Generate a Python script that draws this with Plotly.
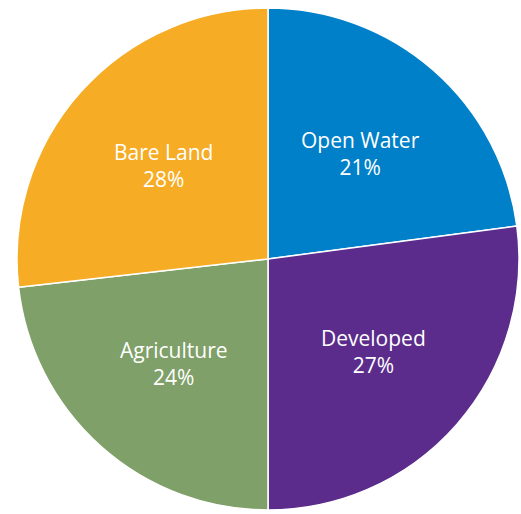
import math
import plotly.graph_objects as go

labels = ["Open Water", "Developed", "Agriculture", "Bare Land"]
values = [22.9, 27.1, 23.2, 26.8]
# percentages printed on the reference
pct_text = ["21%", "27%", "24%", "28%"]
colors = ["#0080C9", "#5B2C8C", "#7FA068", "#F6AC24"]

W, H = 521, 514
cx, cy, R = 268, 259, 251

fig = go.Figure(go.Pie(
    labels=labels, values=values, sort=False, direction="clockwise",
    rotation=0, marker=dict(colors=colors, line=dict(color="white", width=1.5)),
    textinfo="none", hoverinfo="label",
    domain=dict(x=[max(0, (cx - R) / W), min(1, (cx + R) / W)],
                y=[max(0, 1 - (cy + R) / H), min(1, 1 - (cy - R) / H)]),
    showlegend=False,
))

total = sum(values)
cum = 0
for lab, v, t in zip(labels, values, pct_text):
    mid = (cum + v / 2) / total * 2 * math.pi
    cum += v
    px = cx + 0.56 * R * math.sin(mid)
    py = cy - 0.56 * R * math.cos(mid)
    fig.add_annotation(
        x=px / W, y=1 - py / H, xref="paper", yref="paper",
        text=f"{lab}<br>{t}", showarrow=False,
        font=dict(family="Open Sans", size=21, color="white"),
        xanchor="center", yanchor="middle", align="center",
    )

fig.update_layout(width=W, height=H, margin=dict(l=0, r=0, t=0, b=0),
                  paper_bgcolor="white", plot_bgcolor="white")
fig.write_html("out.html", config={"displayModeBar": False},
               post_script="document.body.style.margin='0';document.body.style.overflow='hidden';")
